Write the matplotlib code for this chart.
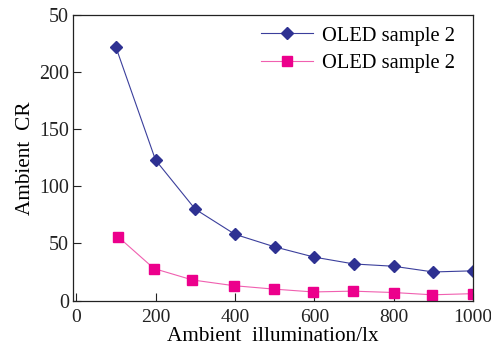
import matplotlib.pyplot as plt

# ambient contrast ratio vs. illumination for two OLED samples
illum_a = [100, 200, 300, 400, 500, 600, 700, 800, 900, 1000]
cr_a = [222, 123, 80, 58, 47, 38, 32, 30, 25, 26]

illum_b = [105, 196, 293, 397, 498, 597, 697, 800, 897, 1000]
cr_b = [56, 28, 18, 13, 10, 7.5, 8.2, 7, 5, 6]

yticks = [0, 50, 100, 150, 200, 250]
ytick_labels = ["0", "50", "100", "150", "200", "50"]
xticks = [0, 200, 400, 600, 800, 1000]

plt.rcParams["font.family"] = ["Liberation Serif", "DejaVu Serif"]
plt.rcParams["font.size"] = 14.4

fig = plt.figure(figsize=(4.91, 3.5), dpi=100)
ax = fig.add_axes([0.1487, 0.1414, 0.8146, 0.8156])

ax.plot(illum_a, cr_a, color="#3b3f9c", lw=0.8, marker="D", ms=6.5,
        mfc="#2e3192", mec="#2e3192", label="OLED sample 2")
ax.plot(illum_b, cr_b, color="#f060b0", lw=0.8, marker="s", ms=7.5,
        mfc="#ec008c", mec="#ec008c", label="OLED sample 2")

ax.set_xlim(-8, 1000)
ax.set_ylim(0, 250)
ax.set_xticks(xticks)
ax.set_yticks(yticks)
ax.set_yticklabels(ytick_labels)
ax.tick_params(direction="in", length=6, width=0.8, colors="#222222")
ax.tick_params(axis="y", pad=3)
ax.tick_params(axis="x", pad=6, labelsize=14)
for s in ax.spines.values():
    s.set_linewidth(0.9)
    s.set_color("#222222")

ax.set_xlabel("Ambient  illumination/lx", fontsize=15.3, labelpad=1)
ax.set_ylabel("Ambient  CR", fontsize=15.3, labelpad=3)

ax.legend(loc="upper right", bbox_to_anchor=(0.975, 0.99), frameon=False,
          handlelength=2.5, handletextpad=0.45, labelspacing=0.4,
          borderaxespad=0.0, fontsize=14.8)

fig.savefig("out.png", dpi=100)
